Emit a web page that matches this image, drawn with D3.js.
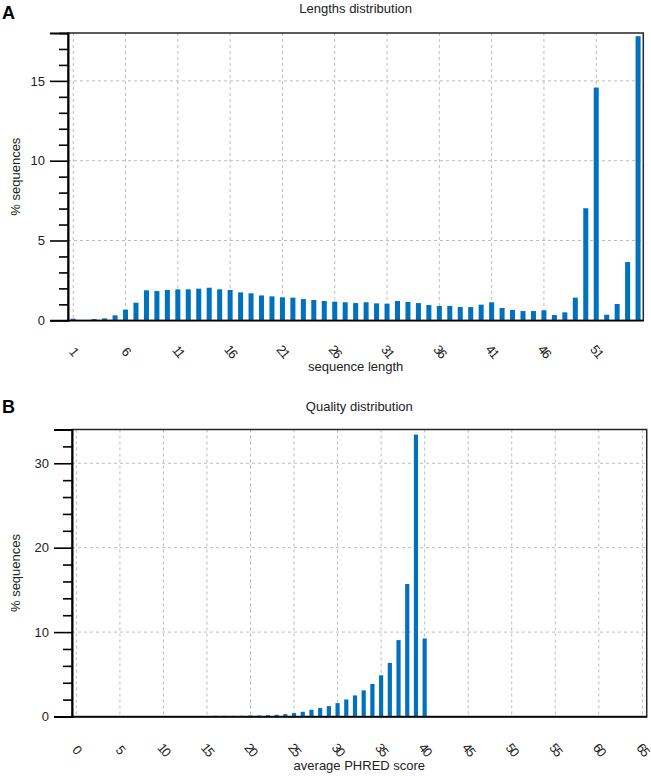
<!DOCTYPE html>
<html><head><meta charset="utf-8">
<script src="https://cdn.jsdelivr.net/npm/d3@7"></script>
<style>
body{margin:0;background:#fff;}
svg{display:block;font-family:"Liberation Sans",Arial,sans-serif;}
</style></head>
<body><svg id="c" width="651" height="776"></svg>
<script>
// ---- Data ----
const lenCategories = [1,2,3,4,5,6,7,8,9,10,11,12,13,14,15,16,17,18,19,20,21,22,23,24,25,26,27,28,29,30,31,32,33,34,35,36,37,38,39,40,41,42,43,44,45,46,47,48,49,50,51,52,53,54,55];
const lenValues = [0.1,0,0.08,0.12,0.31,0.67,1.1,1.88,1.83,1.9,1.94,1.94,1.98,2.04,1.94,1.9,1.75,1.69,1.56,1.5,1.44,1.42,1.33,1.27,1.21,1.17,1.13,1.08,1.13,1.06,1.04,1.21,1.15,1.08,0.96,0.9,0.9,0.83,0.83,0.98,1.13,0.77,0.65,0.58,0.58,0.63,0.33,0.5,1.42,7.02,14.58,0.35,1.02,3.65,17.8];
const lenXTicks = [1,6,11,16,21,26,31,36,41,46,51];
const lenYTicks = [0,5,10,15];
const lenYMinor = [1,2,3,4,6,7,8,9,11,12,13,14,16,17,18];

const qualCategories = [16,17,18,19,20,21,22,23,24,25,26,27,28,29,30,31,32,33,34,35,36,37,38,39,40];
const qualValues = [0.08,0.08,0.08,0.08,0.12,0.12,0.16,0.2,0.28,0.4,0.56,0.8,1.0,1.23,1.59,2.02,2.5,3.1,3.85,4.88,6.35,9.05,15.7,33.4,9.25];
const qualXTicks = [0,5,10,15,20,25,30,35,40,45,50,55,60,65];
const qualYTicks = [0,10,20,30];
const qualYMinor = [2,4,6,8,12,14,16,18,22,24,26,28,32,34];

const svg = d3.select("#c");
const barColor = "#0072bd";

function panel(o){
  const g = svg.append("g");
  const x = d3.scaleLinear().domain(o.xDomain).range([o.left, o.right]);
  const y = d3.scaleLinear().domain(o.yDomain).range([o.bottom, o.top]);
  // grid
  g.append("g").selectAll("line.vg").data(o.xTicks).join("line")
    .attr("x1", d=>x(d)).attr("x2", d=>x(d)).attr("y1", o.top).attr("y2", o.bottom)
    .attr("stroke","#bdbdbd").attr("stroke-width",1).attr("stroke-dasharray","3,3");
  g.append("g").selectAll("line.hg").data(o.yTicks.filter(d=>d>0)).join("line")
    .attr("x1", o.left).attr("x2", o.right).attr("y1", d=>y(d)).attr("y2", d=>y(d))
    .attr("stroke","#bdbdbd").attr("stroke-width",1).attr("stroke-dasharray","3,3");
  // bars
  const bw = (x(1)-x(0))*0.48;
  g.append("g").selectAll("rect").data(o.cats.map((c,i)=>({c, v:o.vals[i]}))).join("rect")
    .attr("x", d=>x(d.c)-bw/2).attr("width", bw)
    .attr("y", d=>y(d.v)).attr("height", d=>y(0)-y(d.v))
    .attr("fill", barColor);
  // frame
  g.append("rect").attr("x", o.left).attr("y", o.top)
    .attr("width", o.right-o.left).attr("height", o.bottom-o.top)
    .attr("fill","none").attr("stroke","#262626").attr("stroke-width",1.5);
  // y axis
  const yAxis = d3.axisLeft(y).tickValues(o.yTicks).tickSize(18).tickPadding(5);
  const ya = g.append("g").attr("transform",`translate(${o.left},0)`).call(yAxis);
  ya.select(".domain").attr("stroke","#000").attr("stroke-width",2);
  ya.selectAll(".tick line").attr("stroke","#000").attr("stroke-width",1.6);
  ya.selectAll(".tick text").attr("font-size",13).attr("fill","#222").attr("font-family","Liberation Sans, Arial, sans-serif");
  const yMinor = d3.axisLeft(y).tickValues(o.yMinor).tickSize(9).tickFormat("");
  const ym = g.append("g").attr("transform",`translate(${o.left},0)`).call(yMinor);
  ym.select(".domain").remove();
  ym.selectAll(".tick line").attr("stroke","#000").attr("stroke-width",1.6);
  // x axis labels (rotated)
  const xAxis = d3.axisBottom(x).tickValues(o.xTicks).tickSize(0).tickPadding(0);
  const xa = g.append("g").attr("transform",`translate(0,${o.bottom})`).call(xAxis);
  xa.select(".domain").attr("stroke","#000").attr("stroke-width",1.6);
  xa.selectAll(".tick text")
    .attr("y",0).attr("dy",0)
    .attr("transform",`translate(0,${o.labOff}) rotate(50)`)
    .attr("text-anchor","middle").attr("dominant-baseline","central")
    .attr("letter-spacing","-1.5px")
    .attr("font-size",13).attr("fill","#222").attr("font-family","Liberation Sans, Arial, sans-serif");
  // titles
  g.append("text").attr("x",(o.left+o.right)/2).attr("y",o.titleY)
    .attr("text-anchor","middle").attr("font-size",13).attr("fill","#222").text(o.title);
  g.append("text").attr("x",(o.left+o.right)/2).attr("y",o.xLabY)
    .attr("text-anchor","middle").attr("font-size",13).attr("fill","#222").text(o.xLabel);
  g.append("text").attr("transform",`translate(20,${(o.top+o.bottom)/2}) rotate(-90)`)
    .attr("text-anchor","middle").attr("font-size",13).attr("fill","#222").text("% sequences");
  g.append("text").attr("x",2).attr("y",o.letterY).attr("font-size",18).attr("font-weight","bold")
    .attr("fill","#000").text(o.letter);
}

panel({left:68, right:643.3, top:33, bottom:320.3, xDomain:[0.5,55.5], yDomain:[0,18],
  xTicks:lenXTicks, yTicks:lenYTicks, yMinor:lenYMinor, cats:lenCategories, vals:lenValues,
  labOff:31, title:"Lengths distribution", titleY:13, xLabel:"sequence length", xLabY:371,
  letter:"A", letterY:19});

panel({left:72, right:646.7, top:429.5, bottom:716.5, xDomain:[-0.5,65.5], yDomain:[0,34],
  xTicks:qualXTicks, yTicks:qualYTicks, yMinor:qualYMinor, cats:qualCategories, vals:qualValues,
  labOff:33, title:"Quality distribution", titleY:411, xLabel:"average PHRED score", xLabY:770,
  letter:"B", letterY:413});
</script></body></html>
